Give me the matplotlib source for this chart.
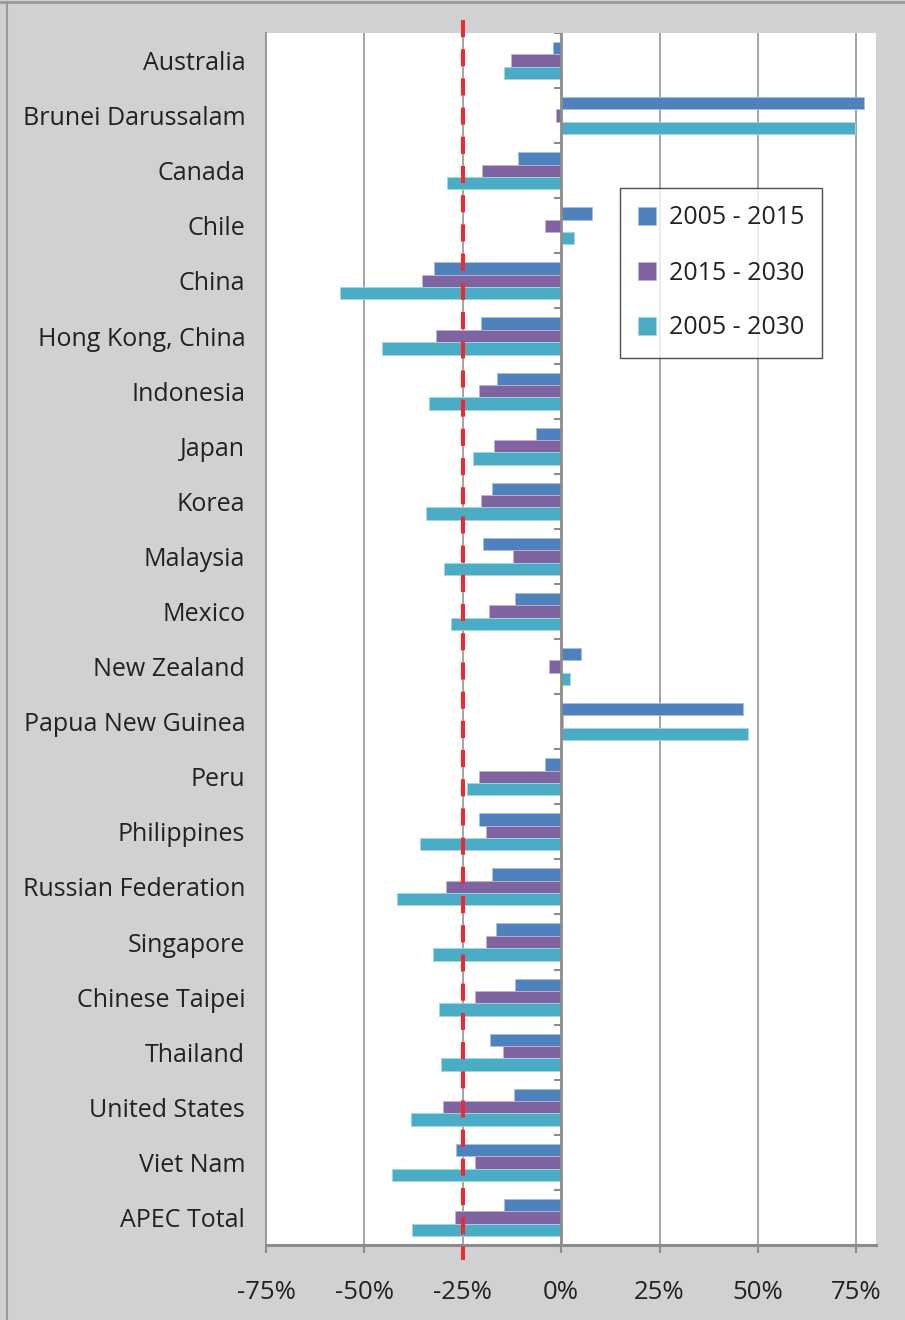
import matplotlib
matplotlib.use("Agg")
import matplotlib.pyplot as plt
import numpy as np
from matplotlib.lines import Line2D

plt.rcParams['font.family'] = ['Open Sans', 'DejaVu Sans']

# economies, top to bottom
economies = ["Australia", "Brunei Darussalam", "Canada", "Chile", "China",
             "Hong Kong, China", "Indonesia", "Japan", "Korea", "Malaysia",
             "Mexico", "New Zealand", "Papua New Guinea", "Peru", "Philippines",
             "Russian Federation", "Singapore", "Chinese Taipei", "Thailand",
             "United States", "Viet Nam", "APEC Total"]

# percent change
chg_2005_2015 = [-2.1, 76.9, -10.9, 7.9, -32.3, -20.4, -16.2, -6.3, -17.5, -19.8,
                 -11.7, 5.1, 46.3, -4.0, -20.8, -17.5, -16.5, -11.7, -18.0,
                 -11.9, -26.8, -14.6]
chg_2015_2030 = [-12.7, -1.3, -20.2, -4.0, -35.3, -31.8, -20.8, -17.0, -20.3, -12.2,
                 -18.3, -3.0, 0.5, -20.8, -19.0, -29.2, -19.0, -21.8, -14.7,
                 -29.9, -21.8, -27.1]
chg_2005_2030 = [-14.5, 74.7, -29.0, 3.3, -56.2, -45.6, -33.5, -22.3, -34.3, -29.7,
                 -27.9, 2.2, 47.4, -23.9, -35.8, -41.6, -32.5, -31.0, -30.5,
                 -38.1, -42.9, -37.8]

series = ["2005 - 2015", "2015 - 2030", "2005 - 2030"]
colors = ["#4F81BD", "#8064A2", "#4BACC6"]
edges = ["#A7C0DE", "#BFB1D0", "#A5D5E2"]

fig = plt.figure(figsize=(9.05, 13.2), dpi=100, facecolor="#D0D1D3")
ax = fig.add_axes([266/905, 1 - 1245/1320, 610/905, 1212/1320])
ax.set_facecolor("white")

y = np.arange(len(economies))
h = 0.224
vals = [chg_2005_2015, chg_2015_2030, chg_2005_2030]
for i in range(3):
    ax.barh(y + (i - 1) * h, vals[i], height=h, color=colors[i],
            edgecolor=edges[i], linewidth=0.6, label=series[i], zorder=3)

ax.set_xlim(-75, 80)
ax.set_ylim(len(economies) - 0.5, -0.5)

# gridlines
for g in [-50, -25, 25, 50, 75]:
    ax.axvline(g, color="#8C8C8C", lw=1.1, zorder=1)
ax.axvline(0, color="#8C8C8C", lw=2.0, zorder=4)

# small ticks on the zero axis between categories
bounds = np.arange(-0.5, len(economies) + 0.5, 1)
ax.hlines(bounds, -1.8, 0, color="#8C8C8C", lw=1.5, zorder=4)

ax.set_yticks(y)
ax.set_yticklabels(economies, fontsize=18, color="#222222")
ax.tick_params(axis="y", length=0, pad=15)

ax.set_xticks([-75, -50, -25, 0, 25, 50, 75])
ax.set_xticklabels(["-75%", "-50%", "-25%", "0%", "25%", "50%", "75%"],
                   fontsize=18.5, color="#222222")
ax.tick_params(axis="x", length=6, width=1.5, color="#8C8C8C", pad=19)

for s in ["top", "right"]:
    ax.spines[s].set_visible(False)
ax.spines["left"].set_color("#8C8C8C")
ax.spines["left"].set_linewidth(1.2)
ax.spines["bottom"].set_color("#8C8C8C")
ax.spines["bottom"].set_linewidth(2.2)

# red dashed reference line at -25%
ax.plot([-25, -25], [1.0107, -0.0124], transform=ax.get_xaxis_transform(),
        color="#EE2A2F", lw=2.9, dashes=(4.25, 3), clip_on=False, zorder=6)

leg = ax.legend(loc="upper left", bbox_to_anchor=(620/905, 1 - 188/1320),
                bbox_transform=fig.transFigure, fontsize=18, frameon=True,
                fancybox=False, edgecolor="#222222", handlelength=0.72,
                handleheight=0.72, labelspacing=1.2, borderpad=0.7,
                handletextpad=0.55, borderaxespad=0)
leg.get_frame().set_linewidth(1.0)
for t in leg.get_texts():
    t.set_color("#222222")

# outer border
fig.add_artist(Line2D([0, 1], [1 - 2/1320, 1 - 2/1320], color="#999999", lw=2))
fig.add_artist(Line2D([6.5/905, 6.5/905], [0, 1 - 2/1320], color="#999999", lw=1.5))

fig.savefig("out.png", dpi=100, facecolor=fig.get_facecolor())
